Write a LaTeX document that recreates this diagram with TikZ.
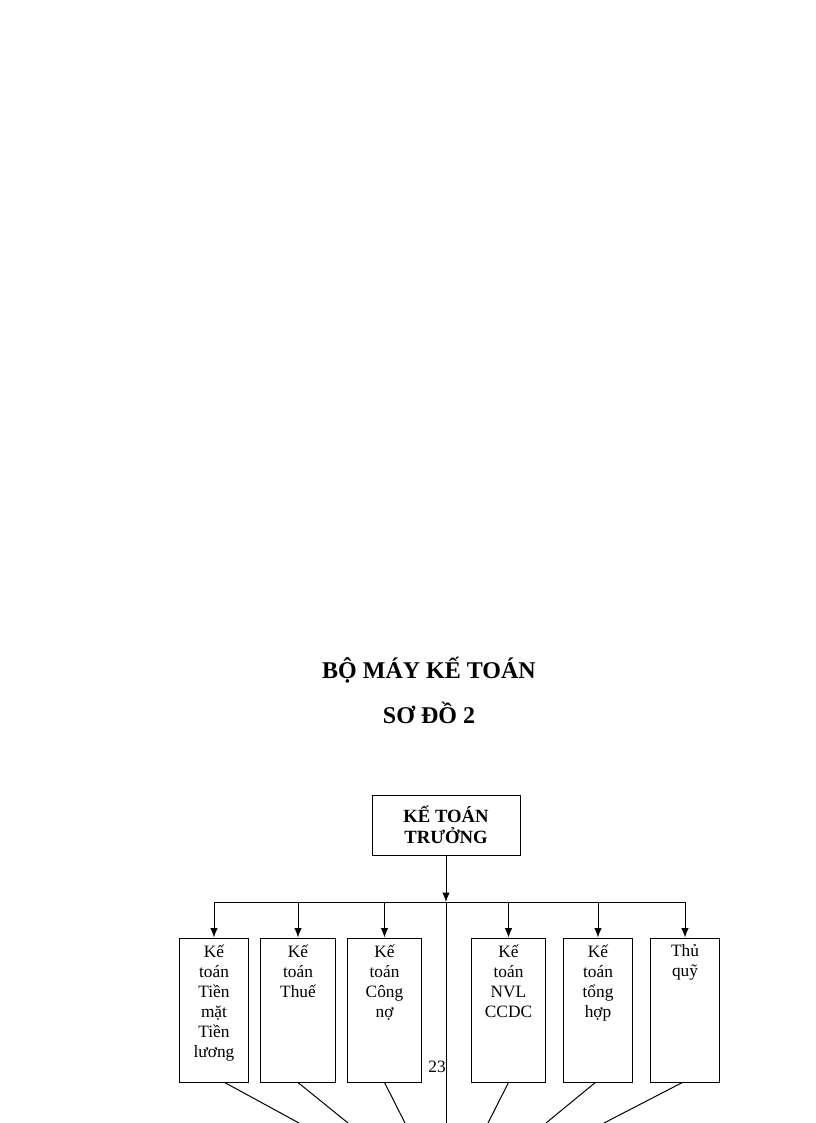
\documentclass[tikz,border=0pt]{standalone}
\usepackage{fontspec}
\setmainfont{Liberation Serif}
\usetikzlibrary{arrows.meta}
\tikzset{>={Latex[length=7pt,width=5.5pt]}}

\begin{document}
\begin{tikzpicture}[x=.75pt, y=-.75pt, line width=.75pt,
    heading/.style={font=\fontsize{18}{20}\selectfont\bfseries},
    unit/.style={draw, minimum width=56pt, minimum height=108pt, inner sep=0pt},
    unittext/.style={anchor=north, align=center, inner sep=0pt, yshift=-5pt,
        font=\fontsize{13}{15}\selectfont}]
    \useasboundingbox (0, 0) rectangle (816, 1123);
    \node[heading] (title) at (429, 670) {BỘ MÁY KẾ TOÁN};
    \node[heading] (subtitle) at (429, 713) {SƠ ĐỒ 2};
    \node[draw, minimum width=111pt, minimum height=45pt, align=center,
        font=\fontsize{14}{16}\selectfont\bfseries] (ktt) at (446, 825) {KẾ TOÁN\\TRƯỞNG};
    \coordinate (hub) at (446, 902);
    \coordinate (base) at (446, 1123);
    % cac bo phan ke toan
    \node[unit, minimum width=52pt] (tm) at (214, 1010) {};
    \node[unit] (thue) at (298, 1010) {};
    \node[unit] (cn) at (384.5, 1010) {};
    \node[unit] (nvl) at (508.5, 1010) {};
    \node[unit, minimum width=52pt] (th) at (598, 1010) {};
    \node[unit, minimum width=52pt] (tq) at (685, 1010) {};
    \node[unittext] (tmtext) at (tm.north) {Kế\\toán\\Tiền\\mặt\\Tiền\\lương};
    \node[unittext] (thuetext) at (thue.north) {Kế\\toán\\Thuế};
    \node[unittext] (cntext) at (cn.north) {Kế\\toán\\Công\\nợ};
    \node[unittext] (nvltext) at (nvl.north) {Kế\\toán\\NVL\\CCDC};
    \node[unittext] (thtext) at (th.north) {Kế\\toán\\tổng\\hợp};
    \node[unittext] (tqtext) at (tq.north) {Thủ\\quỹ};
    \node[font=\fontsize{13}{15}\selectfont, inner sep=0pt] (page) at (437, 1067) {23};
    % duong noi
    \draw[->] (ktt.south) -- (hub);
    \draw (hub) -- (base);
    \draw (hub -| tm) -- (hub -| tq);
    \foreach \b in {tm, thue, cn, nvl, th, tq}
        \draw[->] (hub -| \b.north) -- (\b.north);
    \foreach \b/\dx/\ex in {tm/8/299, thue/0/348, cn/0/405, nvl/0/488, th/-2/546, tq/-2/604}{
        \coordinate (end\b) at (\ex, 1123);
        \draw ([xshift=\dx pt]\b.south) -- (end\b);
    }
\end{tikzpicture}
\end{document}
